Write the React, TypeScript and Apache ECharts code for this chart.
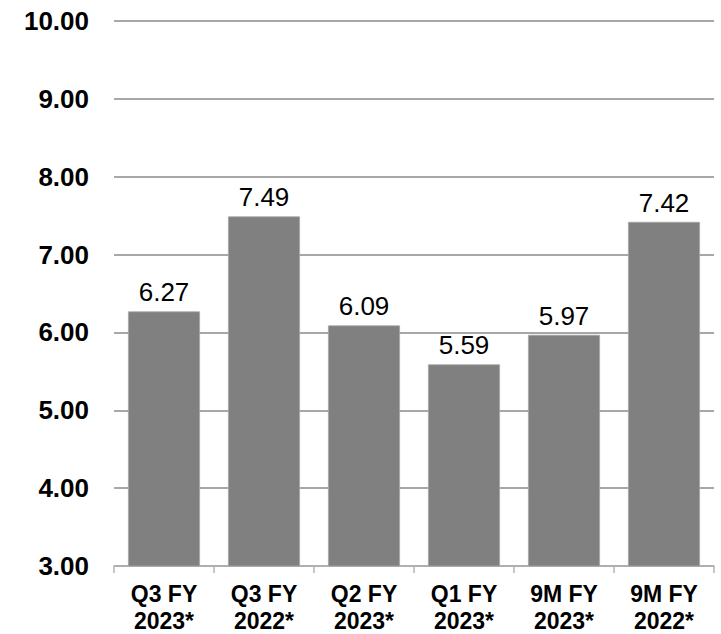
import React, { useEffect, useRef } from "react";
import * as echarts from "echarts";

const categories = ["Q3 FY\n2023*", "Q3 FY\n2022*", "Q2 FY\n2023*", "Q1 FY\n2023*", "9M FY\n2023*", "9M FY\n2022*"];
const values = [6.27, 7.49, 6.09, 5.59, 5.97, 7.42];
const yMin = 3;
const yMax = 10;
const yInterval = 1;

const FONT = "'Liberation Sans', Arial, sans-serif";

export default function App() {
  const ref = useRef<HTMLDivElement>(null);
  useEffect(() => {
    document.body.style.margin = "0";
    const chart = echarts.init(ref.current!, null, { renderer: "svg" });
    chart.setOption({
      animation: false,
      grid: { left: 114, right: 7, top: 21, bottom: 67 },
      xAxis: {
        type: "category",
        data: categories,
        axisLine: { lineStyle: { color: "#b3b3b3", width: 1.5 } },
        axisTick: { show: true, length: 7, lineStyle: { color: "#b3b3b3", width: 1.5 } },
        axisLabel: {
          color: "#000",
          fontFamily: FONT,
          fontWeight: "bold",
          fontSize: 23,
          lineHeight: 27,
          margin: 14,
          interval: 0,
        },
      },
      yAxis: {
        type: "value",
        min: yMin,
        max: yMax,
        interval: yInterval,
        axisLine: { show: false },
        axisTick: { show: false },
        splitLine: { lineStyle: { color: "#8a8a8a", width: 1.5 } },
        axisLabel: {
          color: "#000",
          fontFamily: FONT,
          fontWeight: "bold",
          fontSize: 26,
          margin: 25,
          formatter: (v: number) => v.toFixed(2),
        },
      },
      series: [
        {
          type: "bar",
          data: values,
          barWidth: 72,
          itemStyle: { color: "#808080", borderColor: "#a6a6a6", borderWidth: 0.8 },
          label: {
            show: true,
            position: "top",
            distance: 6,
            color: "#000",
            fontFamily: FONT,
            fontSize: 26,
            formatter: (p: any) => p.value.toFixed(2),
          },
        },
      ],
    });
    return () => chart.dispose();
  }, []);
  return <div ref={ref} style={{ position: "absolute", left: 0, top: 0, width: 721, height: 634 }} />;
}
